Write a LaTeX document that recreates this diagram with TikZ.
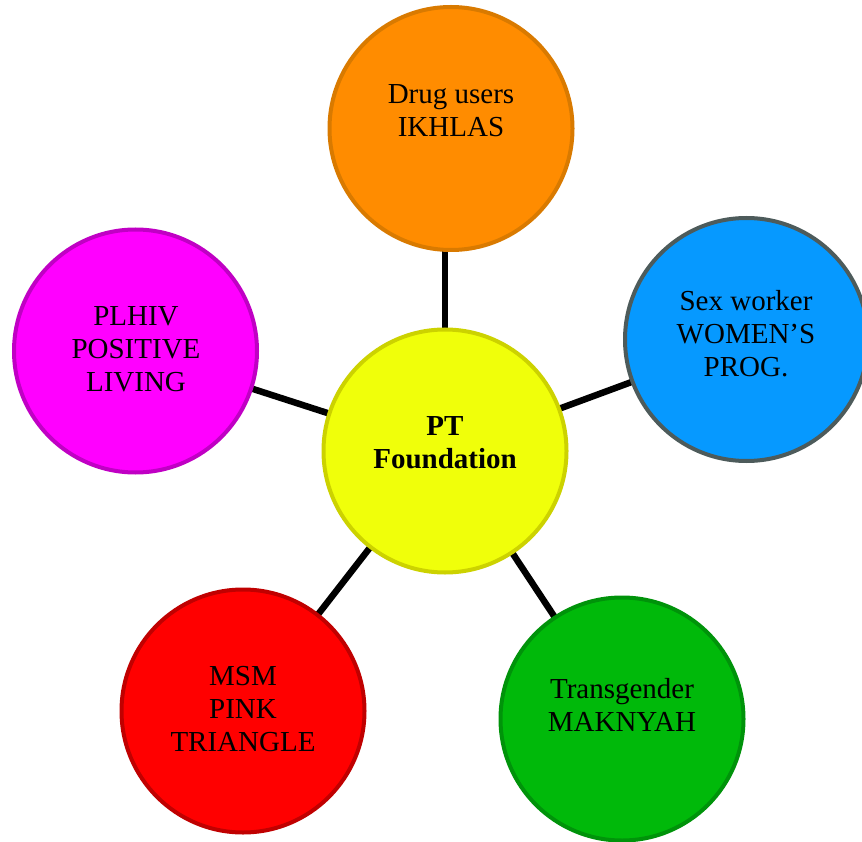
\documentclass[tikz,border=0pt]{standalone}
\usepackage{fontspec}
\setmainfont{Liberation Serif}
\definecolor{orgfill}{HTML}{FF8C00}
\definecolor{orgdraw}{HTML}{D97A00}
\definecolor{bluefill}{HTML}{0699FF}
\definecolor{bluedraw}{HTML}{4D5B5B}
\definecolor{magfill}{HTML}{FF00FF}
\definecolor{magdraw}{HTML}{C000C4}
\definecolor{redfill}{HTML}{FF0000}
\definecolor{reddraw}{HTML}{C00000}
\definecolor{grnfill}{HTML}{00B90A}
\definecolor{grndraw}{HTML}{00930A}
\definecolor{yelfill}{HTML}{F0FF0A}
\definecolor{yeldraw}{HTML}{CCD200}
\tikzset{
  bubble/.style={circle, line width=4pt, minimum size=243pt, inner sep=0pt},
  lbl/.style={align=center, font=\fontsize{29}{33}\selectfont, text=black},
  spoke/.style={line width=6.5pt, black}
}
\begin{document}
\begin{tikzpicture}[x=1pt,y=-1pt]
\useasboundingbox (0,0) rectangle (862,842);
% centres
\coordinate (pc) at (445,451);
\coordinate (po) at (451,128.5);
\coordinate (pb) at (746.5,339.5);
\coordinate (pm) at (135.5,351);
\coordinate (pr) at (243,711);
\coordinate (pg) at (622,719);
% spokes
\draw[spoke] (pc) -- (pc |- po);
\draw[spoke] (pc) -- (pb);
\draw[spoke] (pc) -- (pm);
\draw[spoke] (pc) -- (pr);
\draw[spoke] (pc) -- (pg);
% bubbles
\node[bubble, fill=orgfill, draw=orgdraw] (org) at (po) {};
\node[bubble, fill=bluefill, draw=bluedraw] (blu) at (pb) {};
\node[bubble, fill=magfill, draw=magdraw] (mag) at (pm) {};
\node[bubble, fill=redfill, draw=reddraw] (red) at (pr) {};
\node[bubble, fill=grnfill, draw=grndraw] (grn) at (pg) {};
\node[bubble, fill=yelfill, draw=yeldraw] (cen) at (pc) {};
% labels
\node[lbl] (orgt) at (451,111) {Drug users\\IKHLAS};
\node[lbl] (blut) at (746,334) {Sex worker\\WOMEN’S\\PROG.};
\node[lbl] (magt) at (136,349) {PLHIV\\POSITIVE\\LIVING};
\node[lbl] (redt) at (243,709) {MSM\\PINK\\TRIANGLE};
\node[lbl] (grnt) at (622,705) {Transgender\\MAKNYAH};
\node[lbl, font=\fontsize{29}{33}\selectfont\bfseries] (cent) at (445,443) {PT\\Foundation};
\end{tikzpicture}
\end{document}
